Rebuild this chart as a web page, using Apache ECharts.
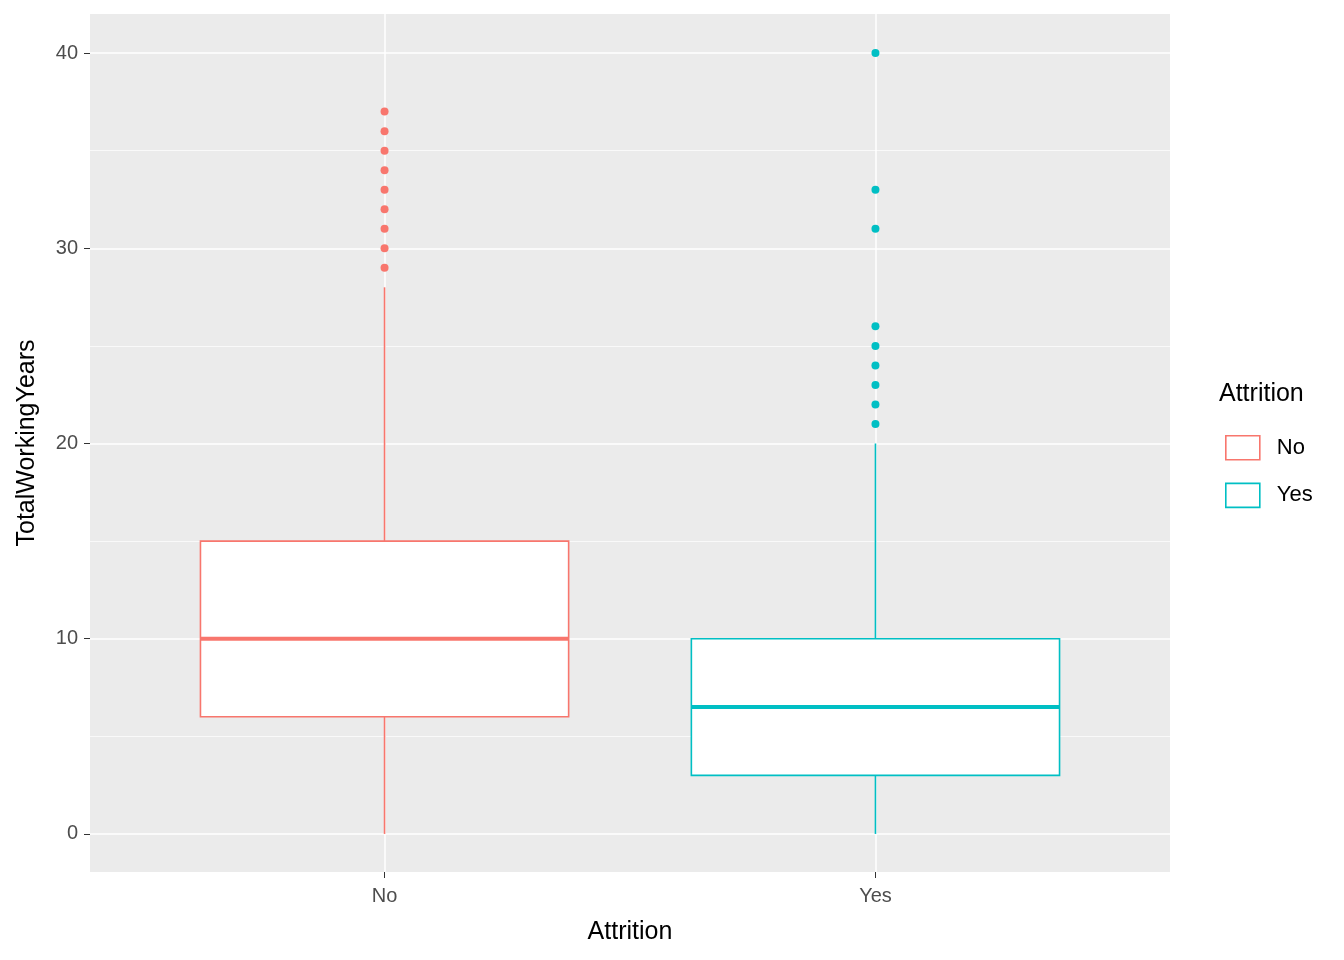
<!DOCTYPE html>
<html><head><meta charset="utf-8">
<script src="https://cdn.jsdelivr.net/npm/echarts@6/dist/echarts.min.js"></script>
<style>html,body{margin:0;background:#fff}#c{width:1344px;height:960px}</style>
</head><body><div id="c"></div>
<script>
var categories = ['No', 'Yes'];
var colors = ['#F8766D', '#00BFC4'];
// [min, q1, median, q3, max]
var boxNo = [0, 6, 10, 15, 28];
var boxYes = [0, 3, 6.5, 10, 20];
var outNo = [29, 30, 31, 32, 33, 34, 35, 36, 37];
var outYes = [21, 22, 23, 24, 25, 26, 31, 33, 40];
var majorTicks = [0, 10, 20, 30, 40];
var minorTicks = [5, 15, 25, 35];

var myChart = echarts.init(document.getElementById('c'));
var boxes = [boxNo, boxYes];
var font = 'Liberation Sans, Arial, sans-serif';

function renderBox(params, api) {
  var i = api.value(0) - 1;
  var c = colors[i];
  var half = 0.375;
  var pL = api.coord([api.value(0) - half, api.value(2)]);
  var pR = api.coord([api.value(0) + half, api.value(4)]);
  var xm = api.coord([api.value(0), 0])[0];
  var yMin = api.coord([0, api.value(1)])[1];
  var yQ1 = api.coord([0, api.value(2)])[1];
  var yMed = api.coord([0, api.value(3)])[1];
  var yQ3 = api.coord([0, api.value(4)])[1];
  var yMax = api.coord([0, api.value(5)])[1];
  return {
    type: 'group',
    children: [
      {type: 'line', shape: {x1: xm, y1: yMin, x2: xm, y2: yQ1}, style: {stroke: c, lineWidth: 1.6}},
      {type: 'line', shape: {x1: xm, y1: yQ3, x2: xm, y2: yMax}, style: {stroke: c, lineWidth: 1.6}},
      {type: 'rect', shape: {x: pL[0], y: yQ3, width: pR[0] - pL[0], height: yQ1 - yQ3}, style: {fill: '#fff', stroke: c, lineWidth: 1.6}},
      {type: 'line', shape: {x1: pL[0], y1: yMed, x2: pR[0], y2: yMed}, style: {stroke: c, lineWidth: 4}}
    ]
  };
}

var series = [];
categories.forEach(function (name, i) {
  var b = boxes[i];
  series.push({
    name: name, type: 'custom', renderItem: renderBox,
    itemStyle: {color: '#fff', borderColor: colors[i]},
    data: [[i + 1].concat(b)], z: 3
  });
  series.push({
    name: name, type: 'scatter', symbolSize: 8, z: 4,
    itemStyle: {color: colors[i], opacity: 1},
    data: (i === 0 ? outNo : outYes).map(function (v) { return [i + 1, v]; })
  });
});

var option = {
  animation: false,
  title: {text: 'Attrition', left: 1214, top: 377, textStyle: {fontFamily: font, fontSize: 25, fontWeight: 'normal', color: '#000'}},
  legend: {
    orient: 'vertical', left: 1220, top: 430, itemWidth: 34, itemHeight: 24, itemGap: 22,
    icon: 'rect',
    textStyle: {fontFamily: font, fontSize: 22, color: '#000', padding: [0, 0, 0, 12]},
    data: [
      {name: 'No', itemStyle: {color: '#fff', borderColor: colors[0], borderWidth: 1.6}},
      {name: 'Yes', itemStyle: {color: '#fff', borderColor: colors[1], borderWidth: 1.6}}
    ]
  },
  grid: {left: 90, right: 174, top: 14, bottom: 88, show: true, backgroundColor: '#EBEBEB', borderWidth: 0},
  xAxis: {
    type: 'value', min: 0.4, max: 2.6,
    name: 'Attrition', nameLocation: 'middle', nameGap: 48,
    nameTextStyle: {fontFamily: font, fontSize: 25, color: '#000'},
    axisLine: {show: false, onZero: false},
    axisTick: {show: true, customValues: [1, 2], length: 6, lineStyle: {color: '#333'}},
    axisLabel: {customValues: [1, 2], formatter: function (v) { return categories[Math.round(v) - 1]; }, fontFamily: font, fontSize: 20, color: '#4D4D4D', margin: 14},
    splitLine: {show: true, lineStyle: {color: '#fff', width: 1.5}}
  },
  yAxis: [{
    type: 'value', min: -1.95, max: 42,
    name: 'TotalWorkingYears', nameLocation: 'middle', nameGap: 50,
    nameTextStyle: {fontFamily: font, fontSize: 25, color: '#000'},
    axisLine: {show: false},
    axisTick: {show: true, customValues: majorTicks, length: 6, lineStyle: {color: '#333'}},
    axisLabel: {customValues: majorTicks, fontFamily: font, fontSize: 20, color: '#4D4D4D', margin: 12},
    splitLine: {show: true, lineStyle: {color: '#fff', width: 1.5}}
  }, {
    type: 'value', min: -1.95, max: 42, position: 'left',
    axisLine: {show: false}, axisLabel: {show: false},
    axisTick: {show: false, customValues: minorTicks},
    splitLine: {show: true, lineStyle: {color: '#fff', width: 0.7}}
  }],
  series: series
};
myChart.setOption(option);
</script></body></html>
